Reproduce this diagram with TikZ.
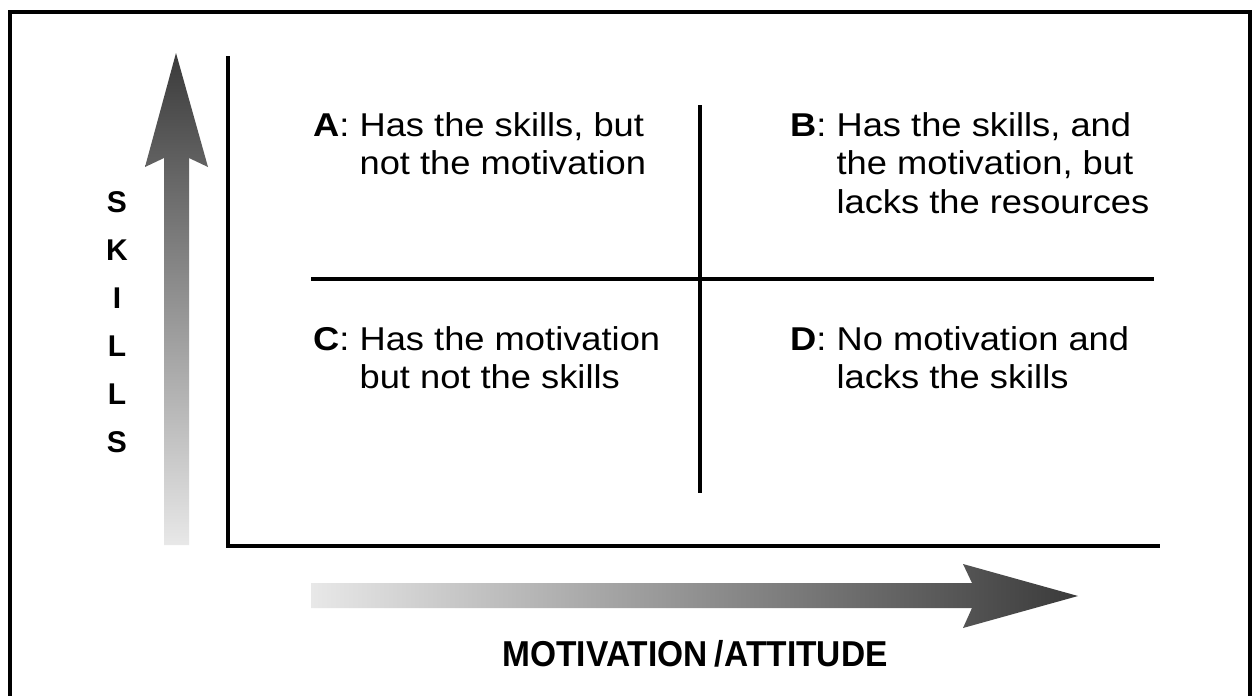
\documentclass[tikz,border=0pt]{standalone}
\usepackage{fontspec}
\setmainfont{Liberation Sans}
\usepackage{graphicx}
\definecolor{dk}{RGB}{58,58,58}
\definecolor{lt}{RGB}{232,232,232}
\newcommand{\qbox}[1]{\scalebox{1.1}[1]{\begin{tabular}[t]{@{}l@{ }l@{}}#1\end{tabular}}}
\begin{document}
\begin{tikzpicture}[x=1pt,y=-1pt,
  frame/.style={line width=4pt,black},
  axis/.style={line width=4pt,black,line cap=rect},
  quad/.style={line width=3.5pt,black},
  qtext/.style={anchor=base west,inner sep=0pt,font=\fontsize{33}{38.5}\selectfont},
  vlabel/.style={inner sep=0pt,align=center,font=\fontsize{30}{48}\selectfont\bfseries},
  hlabel/.style={inner sep=0pt,font=\fontsize{36}{40}\selectfont\bfseries}]
\useasboundingbox (0,0) rectangle (1253,696);
\fill[white] (0,0) rectangle (1253,696);
% frame (bottom edge runs off the picture)
\draw[frame] (10,720) -- (10,12) -- (1250,12) -- (1250,720);
% axes
\coordinate (ytop) at (228,58);
\coordinate (o) at (228,546);
\coordinate (xend) at (1158,546);
\draw[axis] (ytop) -- (o) -- (xend);
% quadrant lines
\coordinate (vt) at (700,105);
\coordinate (vb) at (700,493);
\coordinate (hl) at (311,279);
\coordinate (hr) at (1154,279);
\draw[quad] (vt) -- (vb);
\draw[quad] (hl) -- (hr);
% gradient arrows
\shade[top color=dk,bottom color=lt]
  (164,545) -- (164,158) -- (145,167) -- (176,53) -- (208,167) -- (189,158) -- (189,545) -- cycle;
\shade[left color=lt,right color=dk]
  (311,583) -- (972,583) -- (963,564) -- (1078,596) -- (963,628) -- (972,608) -- (311,608) -- cycle;
% labels
\node[vlabel] (skills) at (117,322) {S\\K\\I\\L\\L\\S};
\node[hlabel] (motiv) at (695,654) {\scalebox{0.93}[1]{MOTIVATION\kern7pt/\kern1pt ATTITUDE}};
% quadrant texts
\node[qtext] (qa) at (313,136) {\qbox{\textbf{A}: & Has the skills, but\\ & not the motivation}};
\node[qtext] (qb) at (790,136) {\qbox{\textbf{B}: & Has the skills, and\\ & the motivation, but\\ & lacks the resources}};
\node[qtext] (qc) at (313,350) {\qbox{\textbf{C}: & Has the motivation\\ & but not the skills}};
\node[qtext] (qd) at (790,350) {\qbox{\textbf{D}: & No motivation and\\ & lacks the skills}};
\end{tikzpicture}
\end{document}
